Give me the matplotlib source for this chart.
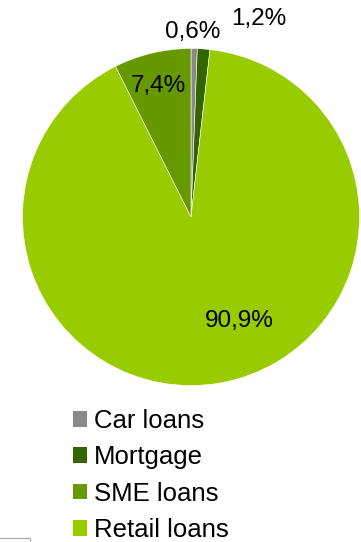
import matplotlib
matplotlib.use("Agg")
import matplotlib.pyplot as plt
from matplotlib.patches import Patch, Rectangle
import numpy as np

plt.rcParams['font.family'] = ['Liberation Sans', 'DejaVu Sans']

# Data (legend order)
categories = ["Car loans", "Mortgage", "SME loans", "Retail loans"]
shares = [0.6, 1.2, 7.4, 90.9]
colors = ["#898989", "#336600", "#669900", "#99CC00"]
# drawing order clockwise from 12 o'clock
draw_order = ["Car loans", "Mortgage", "Retail loans", "SME loans"]

W, H = 361, 542
fig = plt.figure(figsize=(W / 100, H / 100), dpi=100)
ax = fig.add_axes([0, 0, 1, 1])

cx, cy, R = 191, H - 217, 168.5
vals = [shares[categories.index(c)] for c in draw_order]
cols = [colors[categories.index(c)] for c in draw_order]
wedges, _ = ax.pie(vals, colors=cols, startangle=90, counterclock=False,
                   center=(cx, cy), radius=R, frame=True,
                   wedgeprops=dict(edgecolor='white', linewidth=0.4))
ax.set_xlim(0, W)
ax.set_ylim(0, H)
ax.set_aspect('equal')
ax.axis('off')

def fmt(v):
    return f"{v:.1f}%".replace('.', ',')

# label positions (pixel layout, top-origin)
label_pos = {"Car loans": (193, 32), "Mortgage": (259, 19),
             "SME loans": (158, 86), "Retail loans": (239, 321)}
for c in categories:
    x, y = label_pos[c]
    ax.text(x, H - y, fmt(shares[categories.index(c)]), ha='center', va='center',
            fontsize=17.5, color='black')

handles = [Patch(facecolor=colors[i], edgecolor='none') for i in range(len(categories))]
leg = ax.legend(handles, categories, loc='upper left', bbox_to_anchor=(73 / W, 1 - 409 / H),
                frameon=False, fontsize=18.5, handlelength=0.56, handleheight=0.56,
                handletextpad=0.25, labelspacing=0.48, borderaxespad=0, borderpad=0)

# small grey box fragment at bottom-left
fig.patches.append(Rectangle((-5 / W, -10 / H), 35 / W, 14 / H, transform=fig.transFigure,
                             facecolor='white', edgecolor='#a6a6a6', linewidth=0.8))

fig.savefig("out.png", dpi=100)
